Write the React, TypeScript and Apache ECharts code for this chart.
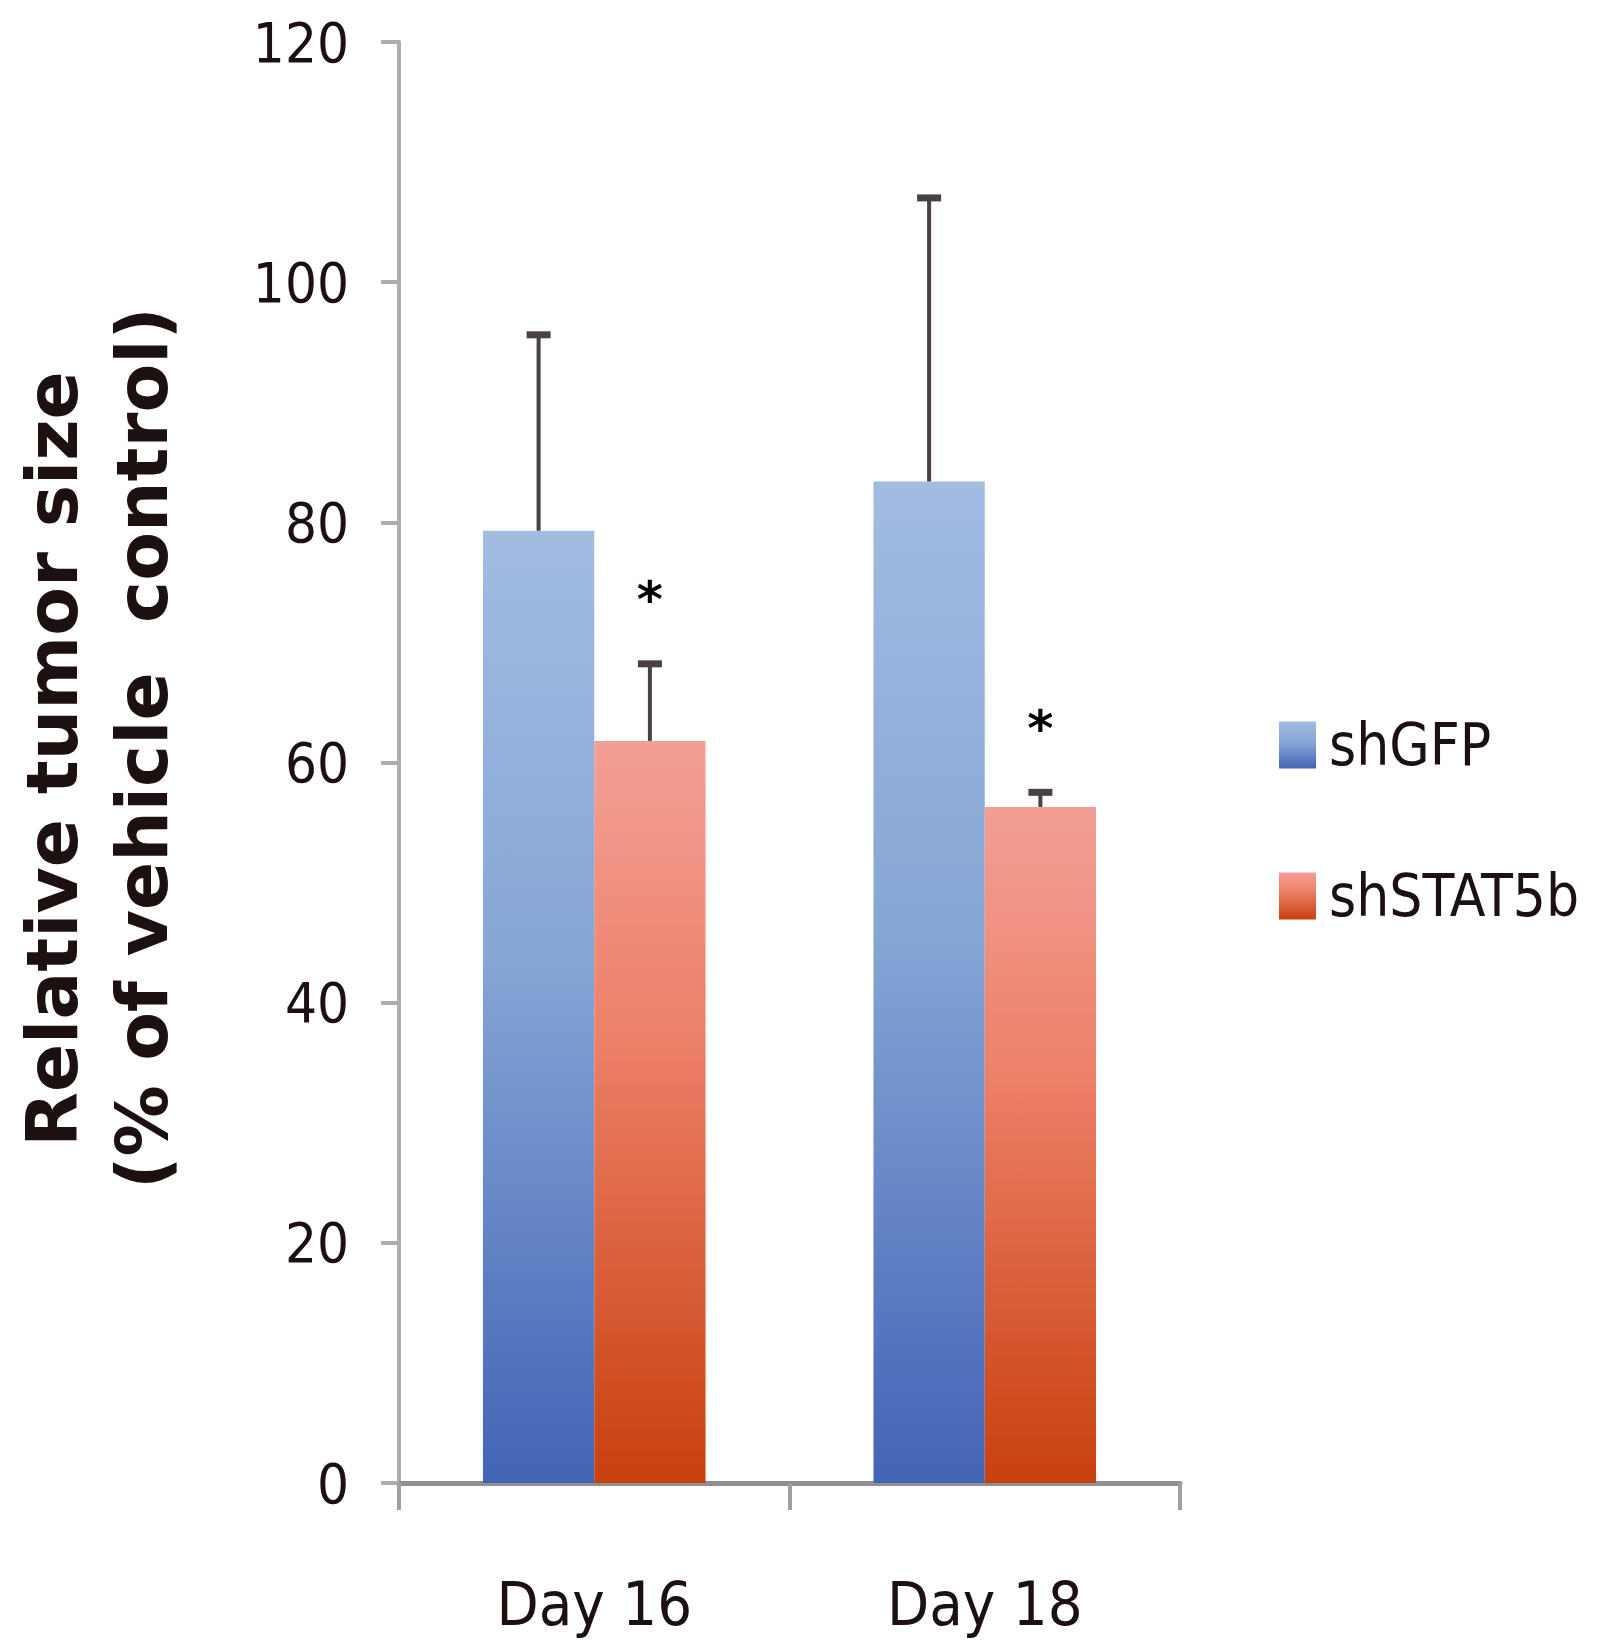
import React, { useEffect, useRef } from "react";
import * as echarts from "echarts";

const categories = ["Day 16", "Day 18"];
const seriesNames = ["shGFP", "shSTAT5b"];
const shGFP = [79.3, 83.4];
const shSTAT5b = [61.8, 56.3];
const shGFPErr = [16.4, 23.7];
const shSTAT5bErr = [6.5, 1.3];
const sigMarkY = [74.0, 63.3];
const yTicks = [0, 20, 40, 60, 80, 100, 120];

const NARROW = "'Liberation Sans Narrow', 'DejaVu Sans Condensed', 'Roboto Condensed', 'Liberation Sans', sans-serif";
const TXT = "#1c1010";

const blueGrad = () =>
  new echarts.graphic.LinearGradient(0, 0, 0, 1, [
    { offset: 0, color: "#a2bce2" },
    { offset: 0.45, color: "#86a6d6" },
    { offset: 1, color: "#4363b6" },
  ]);
const redGrad = () =>
  new echarts.graphic.LinearGradient(0, 0, 0, 1, [
    { offset: 0, color: "#f39f96" },
    { offset: 0.4, color: "#ed8068" },
    { offset: 1, color: "#c8400e" },
  ]);

export default function App() {
  const ref = useRef<HTMLDivElement>(null);
  useEffect(() => {
    document.body.style.margin = "0";
    if (!ref.current) return;
    const chart = echarts.init(ref.current, null, { renderer: "svg" });
    const barFrac = 0.57;
    const errData: number[][] = [];
    categories.forEach((_, i) => {
      errData.push([i, shGFP[i], shGFPErr[i], -1]);
      errData.push([i, shSTAT5b[i], shSTAT5bErr[i], 1]);
    });
    const sigData = categories.map((_, i) => [i, sigMarkY[i], 1]);
    const titleStyle = {
      fontFamily: "'DejaVu Sans', sans-serif",
      fontWeight: "bold",
      fontSize: 71,
      fill: TXT,
      align: "center",
      verticalAlign: "middle",
    };
    chart.setOption({
      animation: false,
      backgroundColor: "#ffffff",
      grid: { left: 399, right: 419, top: 42, bottom: 164, containLabel: false },
      legend: {
        orient: "vertical",
        left: 1274,
        top: 711,
        itemWidth: 37,
        itemHeight: 47,
        itemGap: 93,
        icon: "rect",
        data: seriesNames,
        textStyle: { fontFamily: NARROW, fontSize: 58, color: TXT, padding: [0, 0, 0, 8] },
      },
      xAxis: {
        type: "category",
        data: categories,
        boundaryGap: true,
        axisLine: { show: true, lineStyle: { color: "#8f8f8f", width: 5 } },
        axisTick: { show: true, length: 27, alignWithLabel: false, lineStyle: { color: "#a0a0a0", width: 4 } },
        axisLabel: { fontFamily: NARROW, fontSize: 61, color: TXT, margin: 90 },
        splitLine: { show: false },
      },
      yAxis: {
        type: "value",
        min: 0,
        max: 120,
        interval: 20,
        axisLine: { show: true, lineStyle: { color: "#adadad", width: 4 } },
        axisTick: { show: true, length: 18, lineStyle: { color: "#adadad", width: 4 } },
        axisLabel: {
          fontFamily: NARROW,
          fontSize: 56,
          color: TXT,
          margin: 50,
          formatter: (v: number) => (yTicks.includes(v) ? String(v) : ""),
        },
        splitLine: { show: false },
      },
      graphic: [
        {
          type: "text",
          x: 52,
          y: 759,
          rotation: Math.PI / 2,
          style: { ...titleStyle, text: "Relative tumor size" },
        },
        {
          type: "text",
          x: 142,
          y: 748,
          rotation: Math.PI / 2,
          style: { ...titleStyle, text: "(% of vehicle  control)" },
        },
      ],
      series: [
        {
          name: "shGFP",
          type: "bar",
          data: shGFP,
          barGap: "0%",
          barCategoryGap: "43%",
          itemStyle: { color: blueGrad() },
        },
        {
          name: "shSTAT5b",
          type: "bar",
          data: shSTAT5b,
          barGap: "0%",
          barCategoryGap: "43%",
          itemStyle: { color: redGrad() },
        },
        {
          type: "custom",
          name: "errors",
          data: errData,
          z: 5,
          renderItem: (params: any, api: any) => {
            const idx = api.value(0);
            const v = api.value(1);
            const e = api.value(2);
            const side = api.value(3);
            const base = api.coord([idx, v]);
            const top = api.coord([idx, v + e]);
            const band = api.size([1, 0])[0];
            const bw = (band * barFrac) / 2;
            const cx = base[0] + (side * bw) / 2;
            const cap = 12;
            return {
              type: "group",
              children: [
                { type: "line", shape: { x1: cx, y1: base[1], x2: cx, y2: top[1] }, style: { stroke: "#4a4242", lineWidth: 4 } },
                { type: "line", shape: { x1: cx - cap, y1: top[1] + 1, x2: cx + cap, y2: top[1] + 1 }, style: { stroke: "#4a4242", lineWidth: 7 } },
              ],
            };
          },
        },
        {
          type: "custom",
          name: "significance",
          data: sigData,
          z: 6,
          renderItem: (params: any, api: any) => {
            const idx = api.value(0);
            const v = api.value(1);
            const side = api.value(2);
            const p = api.coord([idx, v]);
            const band = api.size([1, 0])[0];
            const bw = (band * barFrac) / 2;
            const cx = p[0] + (side * bw) / 2;
            return {
              type: "text",
              x: cx,
              y: p[1] + 6,
              style: {
                text: "*",
                fontFamily: "'DejaVu Sans', sans-serif",
                fontWeight: "bold",
                fontSize: 50,
                fill: "#000000",
                align: "center",
                verticalAlign: "middle",
              },
            };
          },
        },
      ],
    });
    return () => chart.dispose();
  }, []);
  return <div ref={ref} style={{ width: 1599, height: 1647 }} />;
}
